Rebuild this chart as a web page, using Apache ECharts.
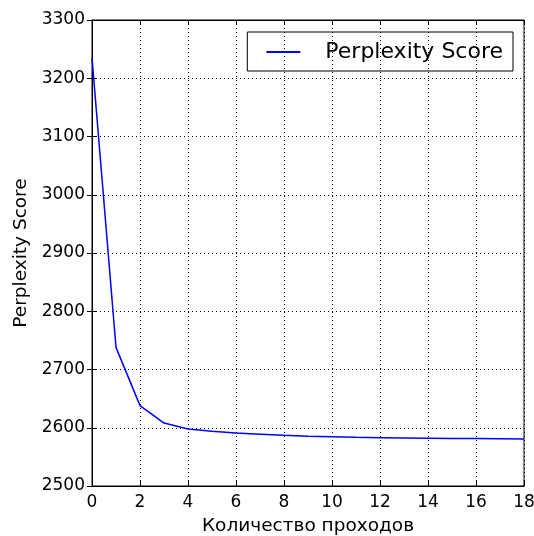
<!DOCTYPE html>
<html>
<head>
<meta charset="utf-8">
<script src="https://cdn.jsdelivr.net/npm/echarts@6/dist/echarts.min.js"></script>
<style>
  html, body { margin: 0; padding: 0; background: #fff; }
  #chart { width: 534px; height: 536px; }
</style>
</head>
<body>
<div id="chart"></div>
<script>
// passes 0..18 and the score after each pass
var passes = [0, 1, 2, 3, 4, 5, 6, 7, 8, 9, 10, 11, 12, 13, 14, 15, 16, 17, 18];
var perplexity = [3235, 2738, 2638, 2608, 2598, 2594, 2591, 2589, 2587, 2585.5,
                  2584.5, 2583.5, 2583, 2582.5, 2582, 2581.5, 2581.5, 2581, 2580.5];

var chart = echarts.init(document.getElementById('chart'));
var font = 'DejaVu Sans';

var points = passes.map(function (p, i) { return [p, perplexity[i]]; });

var gridLine = { show: true, lineStyle: { color: '#000', type: [1, 3], width: 1 } };
var plain = function (v) { return String(v); };

chart.setOption({
  animation: false,
  backgroundColor: '#fff',
  textStyle: { fontFamily: font },
  grid: {
    left: 92, right: 10, top: 20, bottom: 50,
    outerBoundsMode: 'none',
    containLabel: false,
    show: true, borderColor: '#000', borderWidth: 1
  },
  legend: {
    right: 21, top: 32,
    orient: 'vertical',
    borderColor: '#000', borderWidth: 1,
    borderRadius: 0,
    padding: [9, 10, 8, 19],
    icon: 'rect',
    itemWidth: 34, itemHeight: 2,
    textStyle: { fontSize: 22, color: '#000', fontFamily: font, padding: [0, 0, 0, 20] },
    data: ['Perplexity Score']
  },
  xAxis: [{
    type: 'value', min: 0, max: 18, interval: 2,
    name: 'Количество проходов', nameLocation: 'middle', nameGap: 31,
    nameTextStyle: { fontSize: 18.5, color: '#000', fontFamily: font },
    axisLine: { show: true, lineStyle: { color: '#000', width: 1 } },
    axisTick: { show: true, inside: true, length: 5, lineStyle: { color: '#000' } },
    axisLabel: { fontSize: 17, color: '#000', margin: 8, fontFamily: font, formatter: plain },
    splitLine: gridLine
  }, {
    type: 'value', min: 0, max: 18, interval: 2, position: 'top',
    axisLine: { show: true, lineStyle: { color: '#000', width: 1 } },
    axisTick: { show: true, inside: true, length: 5, lineStyle: { color: '#000' } },
    axisLabel: { show: false },
    splitLine: { show: false }
  }],
  yAxis: [{
    type: 'value', min: 2500, max: 3300, interval: 100,
    name: 'Perplexity Score', nameLocation: 'middle', nameGap: 61,
    nameTextStyle: { fontSize: 18.5, color: '#000', fontFamily: font },
    axisLine: { show: true, lineStyle: { color: '#000', width: 1 } },
    axisTick: { show: true, inside: true, length: 5, lineStyle: { color: '#000' } },
    axisLabel: { fontSize: 17, color: '#000', margin: 7, fontFamily: font, formatter: plain },
    splitLine: gridLine
  }, {
    type: 'value', min: 2500, max: 3300, interval: 100, position: 'right',
    axisLine: { show: true, lineStyle: { color: '#000', width: 1 } },
    axisTick: { show: true, inside: true, length: 5, lineStyle: { color: '#000' } },
    axisLabel: { show: false },
    splitLine: { show: false }
  }],
  series: [{
    name: 'Perplexity Score',
    type: 'line',
    data: points,
    symbol: 'none',
    lineStyle: { color: '#0000ff', width: 1.5 },
    itemStyle: { color: '#0000ff' }
  }]
});
</script>
</body>
</html>
